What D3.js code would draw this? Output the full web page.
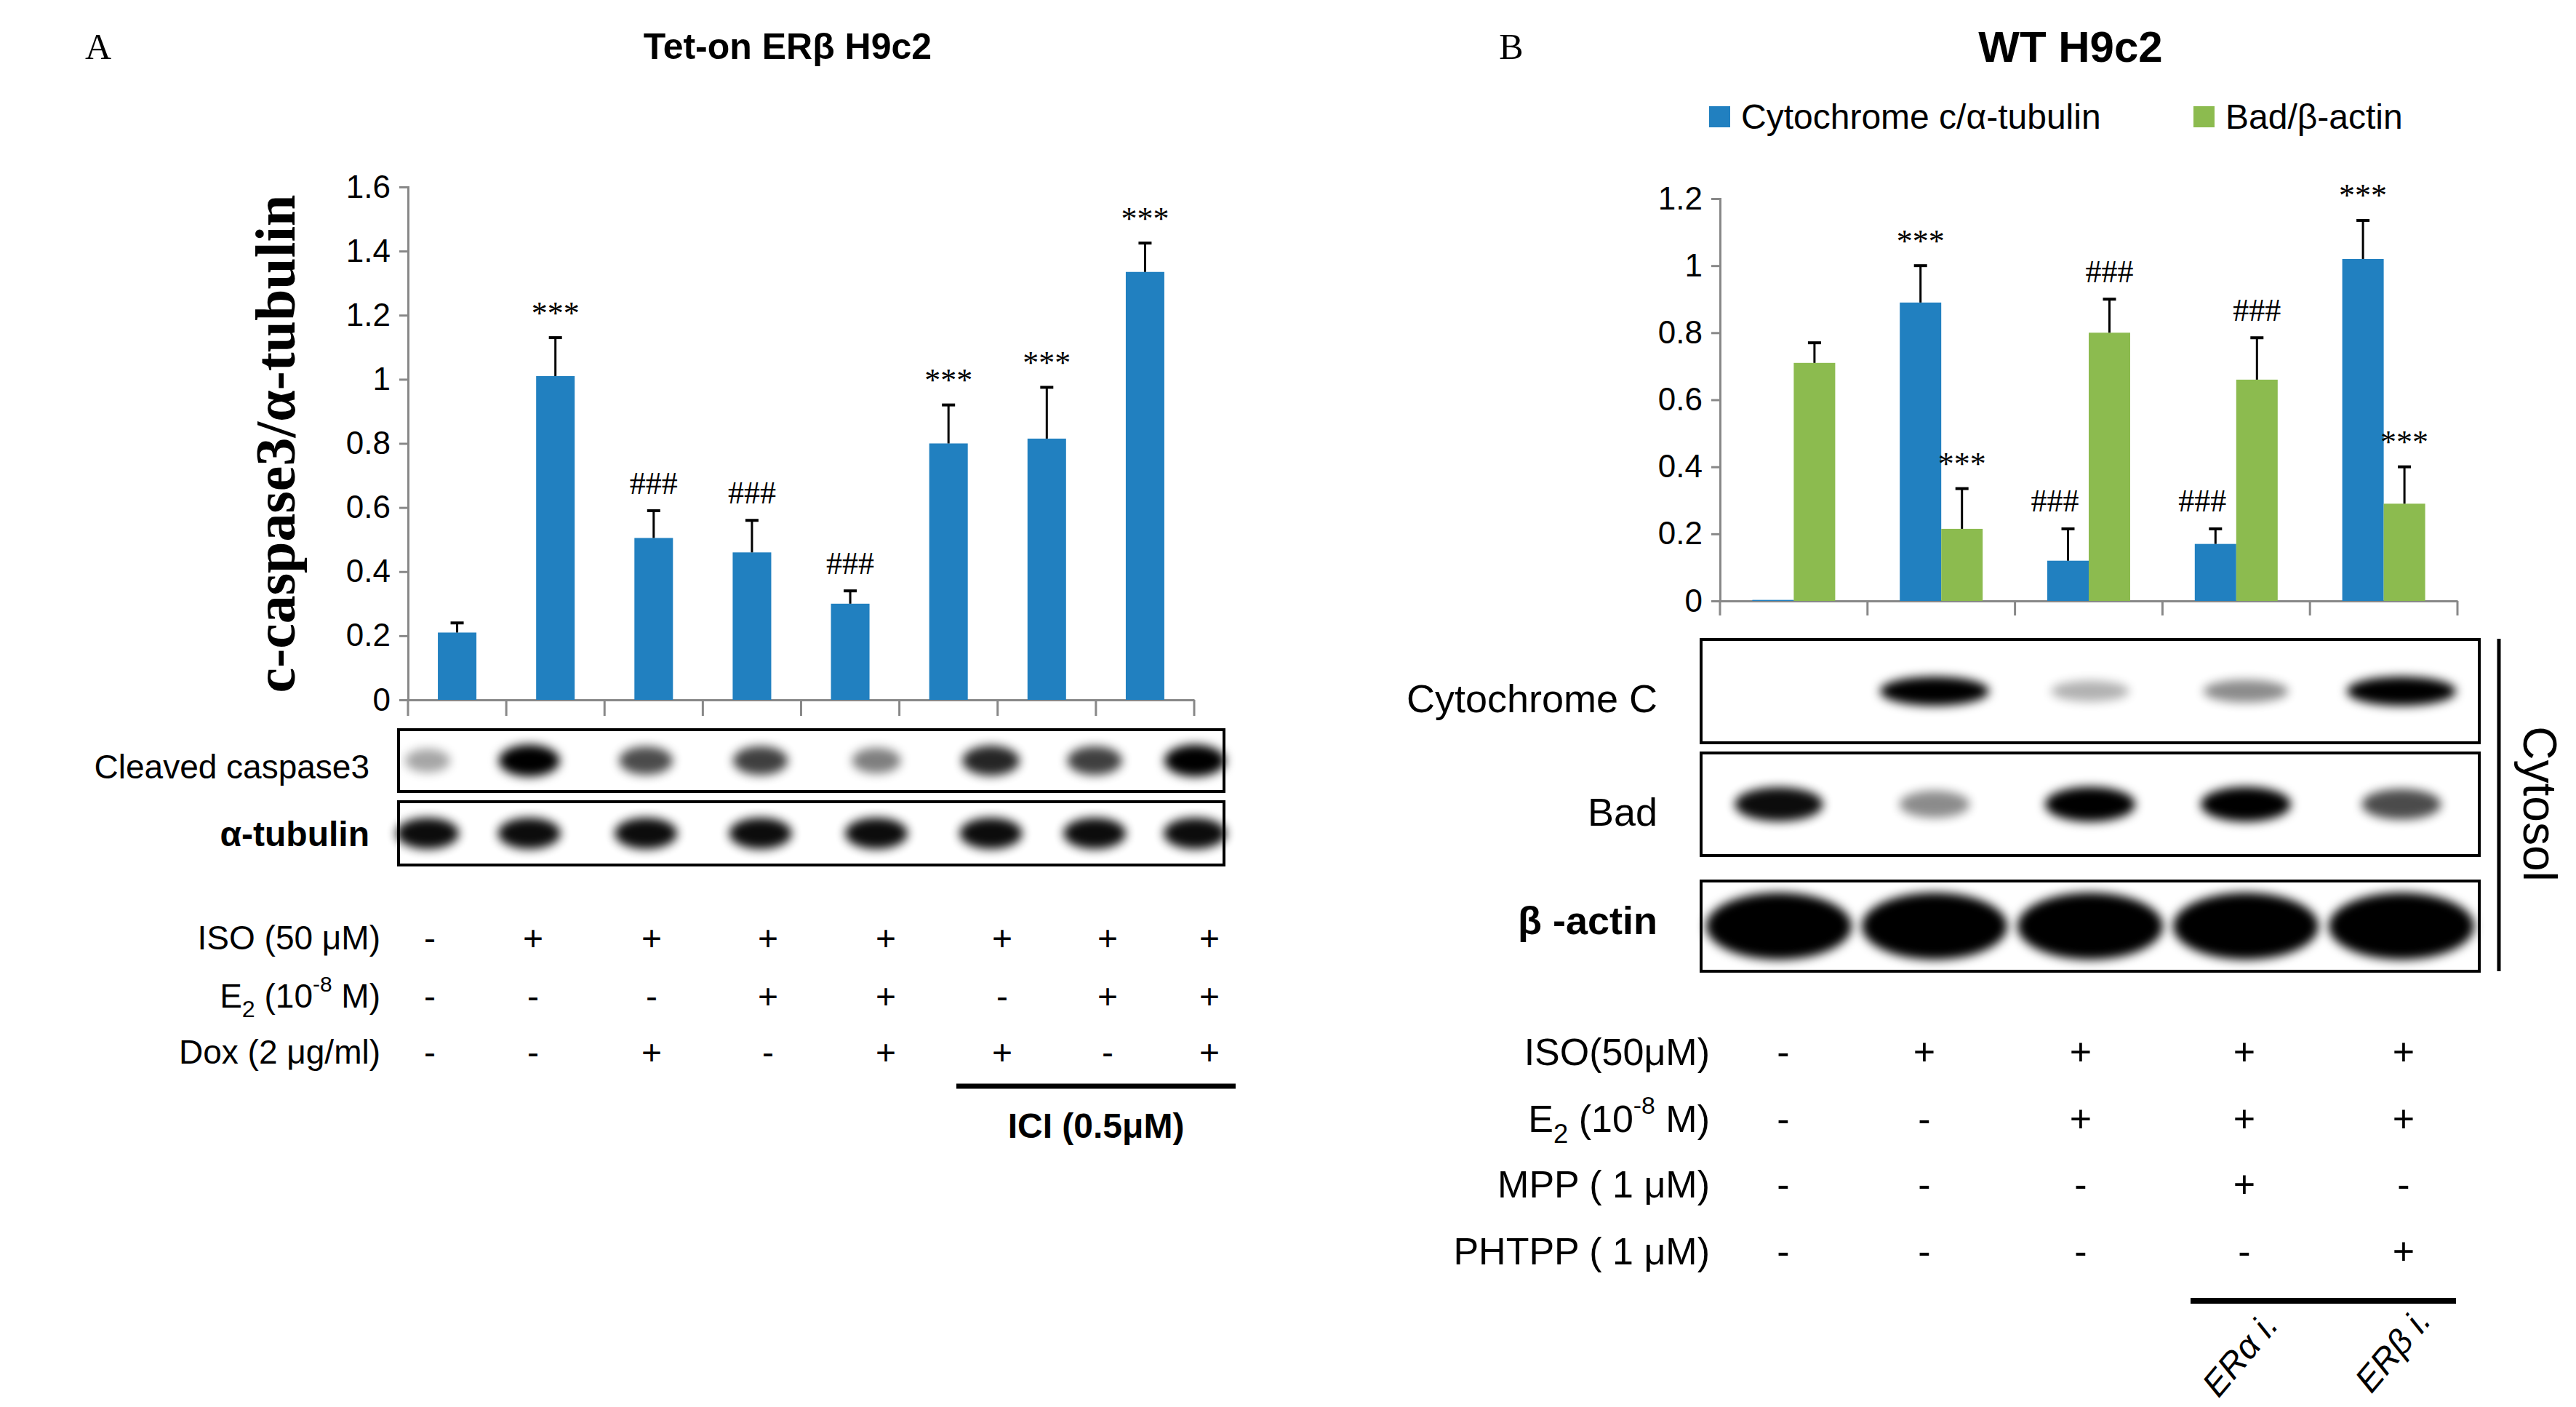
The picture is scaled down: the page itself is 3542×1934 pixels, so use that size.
<!DOCTYPE html><html><head><meta charset="utf-8">
<script src="https://cdn.jsdelivr.net/npm/d3@7"></script>
<style>body{margin:0;background:#fff}</style></head><body>
<svg id="c" width="3542" height="1934" font-family="Liberation Sans Narrow, Liberation Sans, sans-serif"></svg>
<script>
// Panel A data
const catsA = ["1","2","3","4","5","6","7","8"];
const valsA = [0.21,1.01,0.505,0.46,0.30,0.80,0.815,1.335];
const errA  = [0.03,0.12,0.085,0.10,0.04,0.12,0.16,0.09];
const sigA  = ["","***","###","###","###","***","***","***"];
const ticksA = [0,0.2,0.4,0.6,0.8,1,1.2,1.4,1.6];
const bandCasp = [0.35,1,0.7,0.75,0.5,0.85,0.75,1];
const bandTub  = [0.95,0.95,0.95,0.95,0.95,0.95,0.95,0.95];
const rowsA = ["ISO (50 μM)","E2 (10-8 M)","Dox (2 μg/ml)"];
const signsA = [["-","+","+","+","+","+","+","+"],["-","-","-","+","+","-","+","+"],["-","-","+","-","+","+","-","+"]];
// Panel B data
const catsB = ["1","2","3","4","5"];
const seriesB = ["Cytochrome c/α-tubulin","Bad/β-actin"];
const cytoVals = [0.003,0.89,0.12,0.17,1.02];
const cytoErr  = [0,0.11,0.095,0.045,0.115];
const badVals  = [0.71,0.215,0.80,0.66,0.29];
const badErr   = [0.06,0.12,0.10,0.125,0.11];
const cytoSig = ["","***","###","###","***"];
const badSig  = ["","***","###","###","***"];
const ticksB = [0,0.2,0.4,0.6,0.8,1,1.2];
const bandCytC = [0,1,0.3,0.45,1];
const bandBad  = [0.95,0.45,1,1,0.7];
const bandAct  = [1,1,1,1,1];
const rowsB = ["ISO(50μM)","E2 (10-8 M)","MPP ( 1 μM)","PHTPP ( 1 μM)"];
const signsB = [["-","+","+","+","+"],["-","-","+","+","+"],["-","-","-","+","-"],["-","-","-","-","+"]];
const colors = ["#2180c0","#8cbb4f"];

const svg = d3.select("#c");
const defs = svg.append("defs");
defs.append("filter").attr("id","blur").attr("x","-50%").attr("y","-100%").attr("width","200%").attr("height","300%")
  .append("feGaussianBlur").attr("stdDeviation",7);

function label(t,x,y,size,opts={}){
  const el=svg.append("text").attr("x",x).attr("y",y).attr("font-size",size).attr("text-anchor",opts.anchor||"middle")
    .attr("dominant-baseline","central").attr("font-weight",opts.weight||null).attr("font-style",opts.style||null);
  if(opts.family) el.style("font-family",opts.family);
  if(opts.rotate) el.attr("transform",`rotate(${opts.rotate},${x},${y})`);
  return el.text(t);
}
function richLabel(t,x,y,size){
  const el=svg.append("text").attr("x",x).attr("y",y).attr("font-size",size).attr("text-anchor","end").attr("dominant-baseline","central");
  if(t.startsWith("E2")){
    el.append("tspan").text("E");
    el.append("tspan").attr("baseline-shift","sub").attr("font-size",size*0.7).text("2");
    el.append("tspan").text(" (10");
    el.append("tspan").attr("baseline-shift","super").attr("font-size",size*0.65).text("-8");
    el.append("tspan").text(" M)");
  } else el.text(t);
}
const SERIF="Liberation Serif, serif", SANS="Liberation Sans, Arial, sans-serif";

// ---- Panel A chart
label("A",135,64,50,{family:SERIF});
label("Tet-on ERβ H9c2",1083,64,50,{family:SANS,weight:"bold"});
const xA=d3.scaleBand().domain(catsA).range([561,1642]);
const yA=d3.scaleLinear().domain([0,1.6]).range([962,257]);
const gA=svg.append("g");
gA.append("g").attr("transform","translate(561,0)").call(d3.axisLeft(yA).tickValues(ticksA).tickFormat(d=>d3.format("")(d)).tickSize(12).tickPadding(12))
  .call(g=>{g.attr("font-family",null);g.selectAll("text").attr("font-size",44);g.selectAll("line,path").attr("stroke","#888").attr("stroke-width",3);});
gA.append("g").attr("transform","translate(0,962)").call(d3.axisBottom(xA).tickValues([]).tickSizeOuter(0))
  .call(g=>g.select("path").attr("stroke","#888").attr("stroke-width",3));
[...catsA.map(c=>xA(c)),1642].forEach(x=>gA.append("line").attr("x1",x).attr("x2",x).attr("y1",962).attr("y2",984).attr("stroke","#888").attr("stroke-width",3));
const bwA=53;
catsA.forEach((c,i)=>{
  const cx=xA(c)+xA.bandwidth()/2;
  gA.append("rect").attr("x",cx-bwA/2).attr("width",bwA).attr("y",yA(valsA[i])).attr("height",962-yA(valsA[i])).attr("fill",colors[0]);
  const top=yA(valsA[i]+errA[i]);
  gA.append("line").attr("x1",cx).attr("x2",cx).attr("y1",yA(valsA[i])).attr("y2",top).attr("stroke","#000").attr("stroke-width",3);
  gA.append("line").attr("x1",cx-9).attr("x2",cx+9).attr("y1",top).attr("y2",top).attr("stroke","#000").attr("stroke-width",4);
  if(sigA[i]) label(sigA[i],cx,top-(sigA[i]==="***"?34:38),44,{family:SERIF});
});
label("c-caspase3/α-tubulin",378,610,78,{family:SERIF,weight:"bold",rotate:-90});

function blot(x0,x1,y0,y1,lanesX,ints,bw,bh){
  svg.append("rect").attr("x",x0).attr("y",y0).attr("width",x1-x0).attr("height",y1-y0).attr("fill","#fff").attr("stroke","#000").attr("stroke-width",4);
  const cy=(y0+y1)/2;
  lanesX.forEach((x,i)=>{ if(ints[i]>0) svg.append("ellipse").attr("cx",x).attr("cy",cy).attr("rx",bw*(0.6+0.4*ints[i])).attr("ry",bh*(0.6+0.4*ints[i]))
    .attr("fill","#000").attr("opacity",ints[i]).attr("filter","url(#blur)"); });
}
const colsA=[591,733,896,1056,1218,1378,1523,1663];
const laneA=colsA.map(x=>548+(x-591)*(1683-548-80)/(1663-591)+40);
blot(548,1683,1003,1088,laneA,bandCasp,42,22);
blot(548,1683,1102,1189,laneA,bandTub,44,22);
label("Cleaved caspase3",508,1054,46,{anchor:"end"});
label("α-tubulin",508,1146,48,{anchor:"end",weight:"bold",family:SANS});
const rowYA=[1289,1369,1446];
rowsA.forEach((r,j)=>{ richLabel(r,523,rowYA[j],46); signsA[j].forEach((s,i)=>label(s,colsA[i],rowYA[j],48)); });
svg.append("line").attr("x1",1315).attr("x2",1699).attr("y1",1493).attr("y2",1493).attr("stroke","#000").attr("stroke-width",7);
label("ICI (0.5μM)",1507,1547,48,{weight:"bold"});

// ---- Panel B chart
label("B",2078,64,50,{family:SERIF});
label("WT H9c2",2847,64,60,{family:SANS,weight:"bold"});
const xB=d3.scaleBand().domain(catsB).range([2365,3379]);
const xSub=d3.scaleBand().domain(seriesB).range([0,114]);
const yB=d3.scaleLinear().domain([0,1.2]).range([826,273]);
svg.append("g").attr("transform","translate(2365,0)").call(d3.axisLeft(yB).tickValues(ticksB).tickFormat(d=>d3.format("")(d)).tickSize(12).tickPadding(12))
  .call(g=>{g.attr("font-family",null);g.selectAll("text").attr("font-size",44);g.selectAll("line,path").attr("stroke","#888").attr("stroke-width",3);});
svg.append("g").attr("transform","translate(0,826)").call(d3.axisBottom(xB).tickValues([]).tickSizeOuter(0))
  .call(g=>g.select("path").attr("stroke","#888").attr("stroke-width",3));
[...catsB.map(c=>xB(c)),3379].forEach(x=>svg.append("line").attr("x1",x).attr("x2",x).attr("y1",826).attr("y2",846).attr("stroke","#888").attr("stroke-width",3));
const dataB=[[cytoVals,cytoErr,cytoSig],[badVals,badErr,badSig]];
catsB.forEach((c,i)=>{
  const base=xB(c)+xB.bandwidth()/2-57;
  seriesB.forEach((s,k)=>{
    const [v,e,sg]=dataB[k];
    const x=base+xSub(s), cx=x+28.5;
    svg.append("rect").attr("x",x).attr("width",57).attr("y",yB(v[i])).attr("height",826-yB(v[i])).attr("fill",colors[k]);
    if(e[i]>0){const top=yB(v[i]+e[i]);
      svg.append("line").attr("x1",cx).attr("x2",cx).attr("y1",yB(v[i])).attr("y2",top).attr("stroke","#000").attr("stroke-width",3);
      svg.append("line").attr("x1",cx-9).attr("x2",cx+9).attr("y1",top).attr("y2",top).attr("stroke","#000").attr("stroke-width",4);
      if(sg[i]){const off=(k===0&&sg[i]==="###")?-18:0;
        label(sg[i],cx+off,top-(sg[i]==="***"?34:38),44,{family:SERIF});}}
  });
});
seriesB.forEach((s,k)=>{
  const lx=[2350,3016][k];
  svg.append("rect").attr("x",lx).attr("y",146).attr("width",29).attr("height",29).attr("fill",colors[k]);
  label(s,lx+44,160,48,{anchor:"start"});
});
const colsB=[2452,2646,2861,3086,3305];
const laneB=colsB.map((x,i)=>2339+(i+0.5)*(3409-2339)/5);
blot(2339,3409,879,1021,laneB,bandCytC,75,20);
blot(2339,3409,1035,1176,laneB,bandBad,62,24);
blot(2339,3409,1211,1335,laneB,bandAct,100,46);
label("Cytochrome C",2279,960,54,{anchor:"end"});
label("Bad",2279,1116,54,{anchor:"end"});
label("β -actin",2279,1265,54,{anchor:"end",weight:"bold"});
svg.append("line").attr("x1",3436).attr("x2",3436).attr("y1",878).attr("y2",1335).attr("stroke","#000").attr("stroke-width",5);
label("Cytosol",3492,1105,64,{rotate:90,family:SANS});
const rowYB=[1446,1538,1628,1720];
rowsB.forEach((r,j)=>{ richLabel(r,2351,rowYB[j],52); signsB[j].forEach((s,i)=>label(s,colsB[i],rowYB[j],52)); });
svg.append("line").attr("x1",3012).attr("x2",3377).attr("y1",1788).attr("y2",1788).attr("stroke","#000").attr("stroke-width",8);
label("ERα i.",3080,1862,48,{rotate:-50,style:"italic"});
label("ERβ i.",3290,1856,48,{rotate:-50,style:"italic"});
</script></body></html>
